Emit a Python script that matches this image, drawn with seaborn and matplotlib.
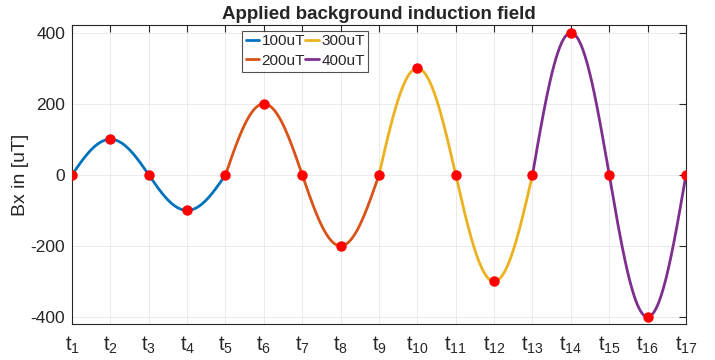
import numpy as np
import pandas as pd
import matplotlib
matplotlib.use("Agg")
import matplotlib.pyplot as plt
import seaborn as sns

# Data
series_labels = ["100uT", "200uT", "300uT", "400uT"]
amplitudes = [100, 200, 300, 400]
time_labels = [f"t{i}" for i in range(1, 18)]
point_values = [0, 100, 0, -100, 0, 200, 0, -200, 0, 300, 0, -300, 0, 400, 0, -400, 0]
colors = ["#0072BD", "#D95319", "#EDB120", "#7E2F8E"]

sns.set_theme(style="white")
plt.rcParams['font.family'] = ['Liberation Sans', 'DejaVu Sans']
plt.rcParams['mathtext.fontset'] = 'custom'
plt.rcParams['mathtext.rm'] = 'Liberation Sans'
plt.rcParams['mathtext.it'] = 'Liberation Sans'

# Each segment is one sine period spanning 4 time steps
rows = []
for k, (lab, A) in enumerate(zip(series_labels, amplitudes)):
    x = np.linspace(1 + 4 * k, 5 + 4 * k, 200)
    y = A * np.sin(np.pi / 2 * (x - 1 - 4 * k))
    rows.append(pd.DataFrame({"t": x, "Bx": y, "series": lab}))
curve = pd.concat(rows, ignore_index=True)
pts = pd.DataFrame({"t": np.arange(1, 18), "Bx": point_values})

fig = plt.figure(figsize=(7.15, 3.6), dpi=100)
ax = fig.add_axes([0.1007, 0.1, 0.8587, 0.8306])

sns.lineplot(data=curve, x="t", y="Bx", hue="series", palette=colors,
             linewidth=2, ax=ax, sort=False, estimator=None)
ax.plot(pts["t"], pts["Bx"], "o", color="#FF0000", markersize=6.5, zorder=5)

ax.set_xlim(1, 17)
ax.set_ylim(-420, 422)
ax.set_xticks(np.arange(1, 18))
ax.set_xticklabels([f"$t_{{{i}}}$" for i in range(1, 18)], fontsize=14.5)
ax.set_yticks([-400, -200, 0, 200, 400])
ax.set_yticklabels(["-400", "-200", "0", "200", "400"], fontsize=12.5, color="#262626")
ax.tick_params(direction="in", length=5, width=0.8, top=True, right=True,
               colors="#262626", pad=5)
ax.tick_params(axis="x", pad=8)
ax.grid(True, color="#e8e8e8", linewidth=0.6)
for s in ax.spines.values():
    s.set_color("#262626")
    s.set_linewidth(0.8)
ax.set_xlabel("")
ax.set_ylabel("Bx in [uT]", fontsize=14, color="#262626", labelpad=1)
ax.set_title("Applied background induction field", fontsize=13.5, fontweight="bold", pad=4)

leg = ax.legend(loc="upper left", bbox_to_anchor=(0.2765, 0.981), ncol=2, fontsize=11,
                frameon=True, fancybox=False, edgecolor="#262626", handlelength=0.9,
                handletextpad=0.15, columnspacing=0.0, borderpad=0.25, labelspacing=0.35,
                borderaxespad=0)
leg.get_frame().set_linewidth(0.8)

fig.savefig("out.png", dpi=100)
